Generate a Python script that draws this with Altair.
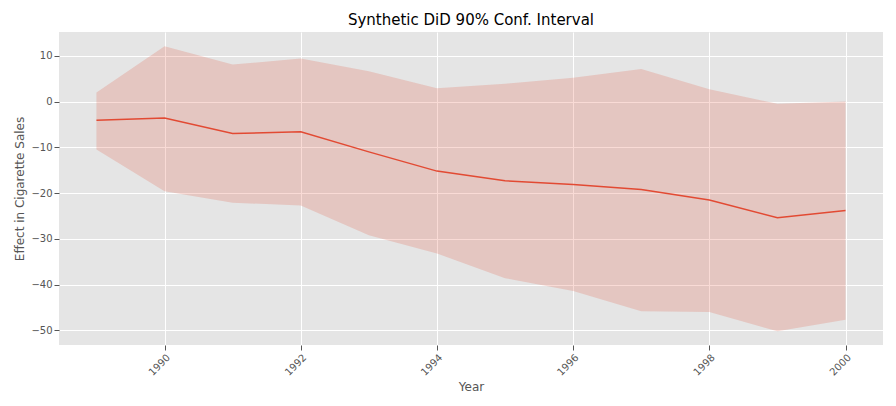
import altair as alt
import pandas as pd

years = [1989,1990,1991,1992,1993,1994,1995,1996,1997,1998,1999,2000]
effect = [-4.1,-3.6,-7.0,-6.6,-11.0,-15.2,-17.3,-18.1,-19.2,-21.5,-25.4,-23.8]
upper = [2.0,12.1,8.1,9.4,6.6,2.9,3.9,5.2,7.1,2.7,-0.5,0.0]
lower = [-10.5,-19.6,-22.1,-22.7,-29.2,-33.2,-38.6,-41.4,-45.8,-46.0,-50.2,-47.7]

df = pd.DataFrame({"Year": years, "effect": effect, "upper": upper, "lower": lower})

x = alt.X("Year:Q", title="Year", scale=alt.Scale(domain=[1988.45, 2000.55], nice=False, zero=False),
          axis=alt.Axis(values=[1990,1992,1994,1996,1998,2000], format="d", labelAngle=315,
                        labelAlign="right", tickColor="#555", domain=False))
y = alt.Y("effect:Q", title="Effect in Cigarette Sales",
          scale=alt.Scale(domain=[-53.2, 15.2], nice=False),
          axis=alt.Axis(values=[-50,-40,-30,-20,-10,0,10], tickColor="#555", domain=False))

base = alt.Chart(df)
area = base.mark_area(color="#E24A33", opacity=0.2).encode(x=x, y=alt.Y("lower:Q", scale=alt.Scale(domain=[-53.2, 15.2], nice=False)), y2="upper:Q")
line = base.mark_line(color="#E24A33", strokeWidth=1.5).encode(x=x, y=y)

chart = (area + line).properties(
    width=880, height=390,
    autosize=alt.AutoSizeParams(type="fit", contains="padding"),
    title=alt.Title("Synthetic DiD 90% Conf. Interval", fontSize=15, fontWeight="normal", font="DejaVu Sans", color="#000"),
).configure_view(fill="#E5E5E5", stroke=None).configure_axis(
    gridColor="white", gridWidth=1, labelFont="DejaVu Sans", titleFont="DejaVu Sans",
    labelColor="#555", titleColor="#555", labelFontSize=10, titleFontSize=12, titleFontWeight="normal"
)
chart.save("out.html", embed_options={"renderer": "svg", "actions": False})
